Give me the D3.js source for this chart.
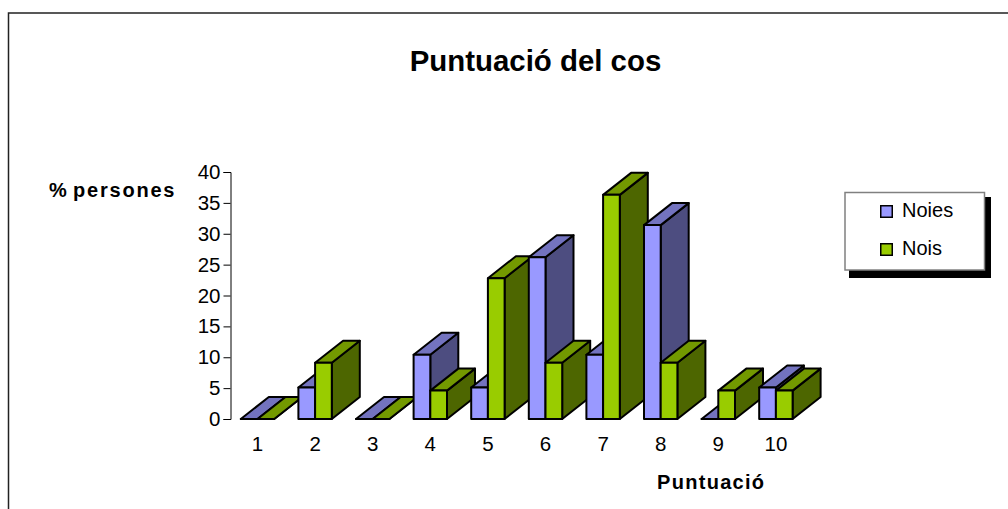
<!DOCTYPE html>
<html>
<head>
<meta charset="utf-8">
<script src="https://cdn.jsdelivr.net/npm/d3@7"></script>
<style>
  html, body { margin: 0; padding: 0; background: #fff; overflow: hidden; }
  text { font-family: "Liberation Sans", Arial, sans-serif; fill: #000; }
</style>
</head>
<body>
<script>
// values
const categories = ['1', '2', '3', '4', '5', '6', '7', '8', '9', '10'];
const noies = [0, 5.1, 0, 10.4, 5.1, 26.2, 10.4, 31.4, 0, 5.1];
const nois = [0, 9.1, 0, 4.6, 22.8, 9.1, 36.3, 9.1, 4.6, 4.6];
const yTicks = [0, 5, 10, 15, 20, 25, 30, 35, 40];
const seriesNames = ['Noies', 'Nois'];

// constants
const width = 1008;
const height = 509;
const depthX = 28;
const depthY = 22;
const barWidth = 16.7;

const colors = [
  { front: '#9999ff', top: '#7373bf', side: '#4d4d80' },
  { front: '#99cc00', top: '#739900', side: '#4d6600' },
];

const svg = d3.select('body')
  .append('svg')
  .attr('width', width)
  .attr('height', height)
  .style('display', 'block');

// chart area frame, only top and left are inside the picture
svg.append('path')
  .attr('d', 'M8.5,509V13H1008')
  .attr('fill', 'none')
  .attr('stroke', '#222')
  .attr('stroke-width', 1.5);

const scaleX = d3.scaleBand()
  .domain(categories)
  .range([240.8, 816.8]);
const scaleY = d3.scaleLinear()
  .domain([0, 40])
  .range([419, 172]);

// axes
const gLeft = svg.append('g')
  .attr('transform', 'translate(230.5, 0)');
d3.axisLeft(scaleY)
  .tickValues(yTicks)
  .tickSize(7)
  .tickSizeOuter(7)
  .tickPadding(3)(gLeft);
gLeft.select('.domain').attr('stroke', '#000');
gLeft.selectAll('text').style('font-size', '20.5px');

const gBottom = svg.append('g')
  .attr('transform', 'translate(0, 419)');
d3.axisBottom(scaleX)
  .tickSize(0)
  .tickPadding(17.5)(gBottom);
gBottom.select('.domain').remove();
gBottom.selectAll('.tick')
  .attr('transform', (d) => `translate(${scaleX(d) + barWidth}, 0)`);
gBottom.selectAll('text').style('font-size', '20.5px');

// each bar is three faces, painted left to right so nearer ones overlap
const faces = (i, d, s) => {
  const x0 = scaleX(categories[i]) + s * barWidth;
  const x1 = x0 + barWidth;
  const y0 = scaleY(0);
  const y1 = scaleY(d);
  return [
    { fill: colors[s].side, pts: [[x1, y1], [x1 + depthX, y1 - depthY], [x1 + depthX, y0 - depthY], [x1, y0]] },
    { fill: colors[s].top, pts: [[x0, y1], [x0 + depthX, y1 - depthY], [x1 + depthX, y1 - depthY], [x1, y1]] },
    { fill: colors[s].front, pts: [[x0, y0], [x0, y1], [x1, y1], [x1, y0]] },
  ];
};

const barFaces = categories.flatMap((c, i) => [
  ...faces(i, noies[i], 0),
  ...faces(i, nois[i], 1),
]);

svg.append('g')
  .selectAll('polygon')
  .data(barFaces)
  .join('polygon')
  .attr('points', (d) => d.pts.join(' '))
  .attr('fill', (d) => d.fill)
  .attr('stroke', '#000')
  .attr('stroke-width', 2)
  .attr('stroke-linejoin', 'round');

// titles
svg.append('text')
  .attr('x', 535.5)
  .attr('y', 71)
  .attr('text-anchor', 'middle')
  .style('font-size', '29.4px')
  .style('font-weight', 'bold')
  .text('Puntuació del cos');

svg.append('text')
  .attr('x', 49)
  .attr('y', 197)
  .style('font-size', '20px')
  .style('font-weight', 'bold')
  .style('letter-spacing', '1.8px')
  .style('word-spacing', '-3px')
  .text('% persones');

svg.append('text')
  .attr('x', 657)
  .attr('y', 489)
  .style('font-size', '20px')
  .style('font-weight', 'bold')
  .style('letter-spacing', '1.3px')
  .text('Puntuació');

// legend with hard shadow
svg.append('rect')
  .attr('x', 849)
  .attr('y', 197)
  .attr('width', 142)
  .attr('height', 81)
  .attr('fill', '#000');
svg.append('rect')
  .attr('x', 845)
  .attr('y', 192.5)
  .attr('width', 139.5)
  .attr('height', 77.5)
  .attr('fill', '#fff')
  .attr('stroke', '#808080')
  .attr('stroke-width', 1.5);

const legend = svg.selectAll('.legend-item')
  .data(seriesNames)
  .join('g')
  .attr('class', 'legend-item')
  .attr('transform', (d, i) => `translate(880, ${205 + i * 38})`);
legend.append('rect')
  .attr('x', 0.75)
  .attr('y', 0.75)
  .attr('width', 11.5)
  .attr('height', 11.5)
  .attr('fill', (d, i) => colors[i].front)
  .attr('stroke', '#000')
  .attr('stroke-width', 1.5);
legend.append('text')
  .attr('x', 22)
  .attr('y', 11.5)
  .style('font-size', '20px')
  .text((d) => d);
</script>
</body>
</html>
